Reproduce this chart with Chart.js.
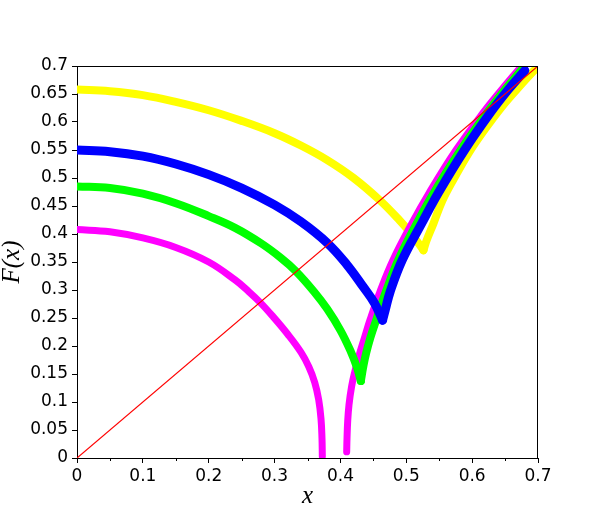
<!DOCTYPE html>
<html lang="en">
<head>
<meta charset="UTF-8">
<title>F(x)</title>
<script src="https://cdn.jsdelivr.net/npm/chart.js"></script>
<style>
  body { margin: 0; background: #fff; }
  canvas { display: block; }
</style>
</head>
<body>
<canvas id="chart" width="615" height="525"></canvas>
<script>
// values, one descending and one rising branch per colour
const magentaDownX = [0, 0.05, 0.10, 0.15, 0.20, 0.24, 0.26, 0.278, 0.298, 0.32, 0.34, 0.352, 0.361, 0.367, 0.3705, 0.372, 0.3725];
const magentaDownY = [0.408, 0.404, 0.393, 0.376, 0.350, 0.318, 0.298, 0.278, 0.252, 0.221, 0.189, 0.163, 0.135, 0.104, 0.070, 0.035, 0.003];
const magentaUpX = [0.4095, 0.4100, 0.411, 0.413, 0.417, 0.422, 0.4287, 0.436, 0.445, 0.460, 0.480, 0.508, 0.535, 0.575, 0.617, 0.645, 0.670];
const magentaUpY = [0.011, 0.035, 0.065, 0.095, 0.128, 0.155, 0.185, 0.213, 0.247, 0.297, 0.354, 0.418, 0.474, 0.549, 0.617, 0.658, 0.693];

const greenDownX = [0, 0.05, 0.10, 0.15, 0.20, 0.24, 0.28, 0.31, 0.332, 0.36, 0.38, 0.40, 0.415, 0.425, 0.431];
const greenDownY = [0.485, 0.482, 0.472, 0.455, 0.432, 0.411, 0.383, 0.357, 0.334, 0.297, 0.266, 0.228, 0.192, 0.162, 0.1375];
const greenUpX = [0.431, 0.435, 0.439, 0.4455, 0.4545, 0.469, 0.488, 0.5155, 0.542, 0.582, 0.623, 0.650, 0.675];
const greenUpY = [0.1375, 0.165, 0.187, 0.215, 0.247, 0.297, 0.354, 0.418, 0.474, 0.549, 0.617, 0.658, 0.693];

const blueDownX = [0, 0.05, 0.10, 0.15, 0.20, 0.25, 0.30, 0.34, 0.38, 0.41, 0.435, 0.452, 0.464];
const blueDownY = [0.550, 0.547, 0.539, 0.525, 0.506, 0.482, 0.452, 0.422, 0.384, 0.345, 0.305, 0.276, 0.246];
const blueUpX = [0.464, 0.468, 0.4755, 0.494, 0.523, 0.549, 0.588, 0.628, 0.655, 0.680];
const blueUpY = [0.246, 0.264, 0.297, 0.354, 0.418, 0.474, 0.549, 0.617, 0.658, 0.692];

const yellowDownX = [0, 0.05, 0.10, 0.15, 0.20, 0.25, 0.30, 0.34, 0.38, 0.42, 0.46, 0.49, 0.51, 0.526];
const yellowDownY = [0.658, 0.655, 0.648, 0.636, 0.621, 0.602, 0.580, 0.558, 0.532, 0.500, 0.460, 0.424, 0.397, 0.371];
const yellowUpX = [0.526, 0.531, 0.541, 0.555, 0.572, 0.595, 0.620, 0.645, 0.670, 0.694];
const yellowUpY = [0.371, 0.389, 0.418, 0.460, 0.498, 0.545, 0.588, 0.627, 0.661, 0.692];

const diagX = [0, 0.7];
const diagY = [0, 0.7];

const minorX = [0.05, 0.15, 0.25, 0.35, 0.45, 0.55, 0.65];

function pts(xs, ys) {
  return xs.map((x, i) => ({ x: x, y: ys[i] }));
}

function curve(xs, ys, color, width, order) {
  return {
    data: pts(xs, ys),
    borderColor: color,
    backgroundColor: color,
    borderWidth: width,
    borderCapStyle: 'round',
    borderJoinStyle: 'round',
    tension: 0.4,
    showLine: true,
    pointRadius: 0,
    order: order
  };
}

// top/right spines and the small x ticks between the labelled ones
const frame = {
  id: 'frame',
  afterDraw(chart) {
    const { ctx, chartArea: a, scales: { x } } = chart;
    ctx.save();
    ctx.strokeStyle = '#000';
    ctx.lineWidth = 1;
    ctx.beginPath();
    ctx.moveTo(a.left, a.top + 0.5);
    ctx.lineTo(a.right, a.top + 0.5);
    ctx.moveTo(a.right - 0.5, a.top);
    ctx.lineTo(a.right - 0.5, a.bottom);
    minorX.forEach(v => {
      const px = Math.round(x.getPixelForValue(v)) + 0.5;
      ctx.moveTo(px, a.bottom);
      ctx.lineTo(px, a.bottom + 3);
    });
    ctx.stroke();
    ctx.restore();
  }
};

const tickFont = { family: 'DejaVu Sans', size: 17 };
const fmt = v => String(+Number(v).toFixed(2));

new Chart(document.getElementById('chart'), {
  type: 'scatter',
  data: {
    datasets: [
      { data: pts(diagX, diagY), borderColor: '#ff0000', borderWidth: 1.2, showLine: true, pointRadius: 0, order: 0 },
      curve(blueDownX, blueDownY, '#0000ff', 9, 1),
      curve(blueUpX, blueUpY, '#0000ff', 9, 1),
      curve(greenDownX, greenDownY, '#00ff00', 8, 2),
      curve(greenUpX, greenUpY, '#00ff00', 8, 2),
      curve(magentaDownX, magentaDownY, '#ff00ff', 7, 3),
      curve(magentaUpX, magentaUpY, '#ff00ff', 7, 3),
      curve(yellowDownX, yellowDownY, '#ffff00', 8, 4),
      curve(yellowUpX, yellowUpY, '#ffff00', 8, 4)
    ]
  },
  options: {
    responsive: false,
    animation: false,
    layout: { padding: { top: 66, right: 77, left: 0, bottom: 0 } },
    plugins: { legend: { display: false }, tooltip: { enabled: false } },
    scales: {
      x: {
        type: 'linear',
        min: 0,
        max: 0.7,
        afterFit: s => { s.height = 67; },
        ticks: { stepSize: 0.1, color: '#000', font: tickFont, padding: 3, callback: fmt, maxRotation: 0 },
        grid: { drawOnChartArea: false, tickLength: 5, tickColor: '#000' },
        border: { color: '#000' },
        title: {
          display: true,
          text: 'x',
          color: '#000',
          font: { family: 'Liberation Serif', style: 'italic', size: 25, lineHeight: 1 },
          padding: { top: 0, bottom: 16 }
        }
      },
      y: {
        type: 'linear',
        min: 0,
        max: 0.7,
        afterFit: s => { s.width = 77; },
        ticks: { stepSize: 0.05, color: '#000', font: tickFont, padding: 4, callback: fmt },
        grid: { drawOnChartArea: false, tickLength: 5, tickColor: '#000' },
        border: { color: '#000' },
        title: {
          display: true,
          text: 'F(x)',
          color: '#000',
          font: { family: 'Liberation Serif', style: 'italic', size: 25, lineHeight: 1 },
          padding: { top: 0, bottom: 0 }
        }
      }
    }
  },
  plugins: [frame]
});
</script>
</body>
</html>
